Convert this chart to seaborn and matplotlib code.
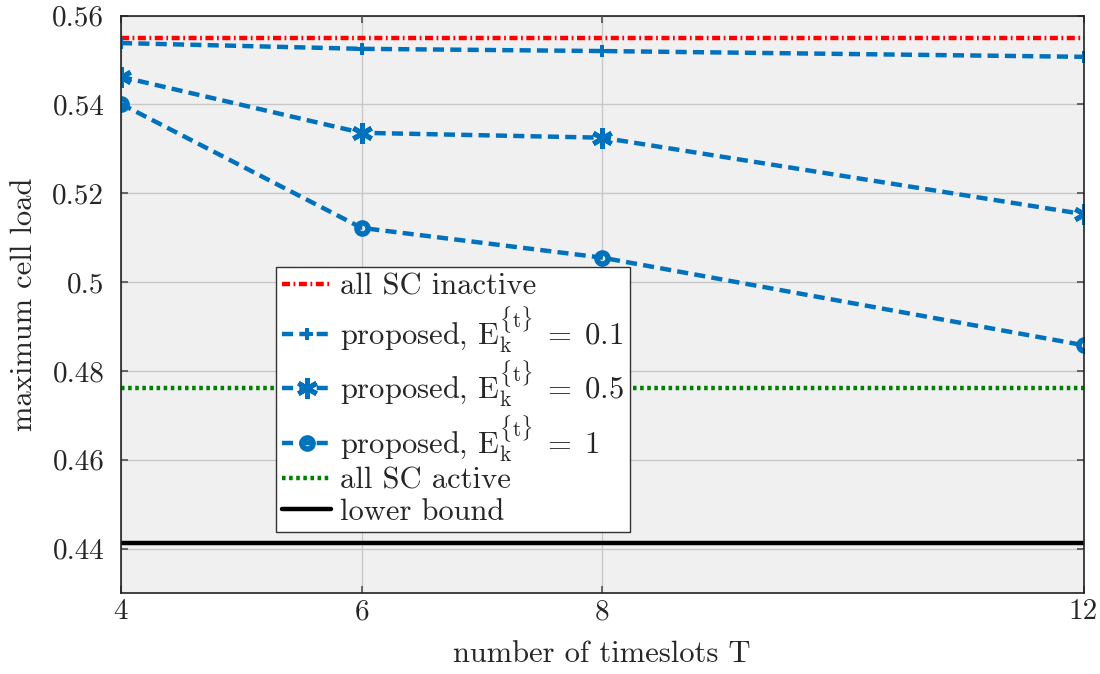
import numpy as np
import pandas as pd
import matplotlib
matplotlib.use("Agg")
import matplotlib.pyplot as plt
import seaborn as sns

# Data
timeslots = [4, 6, 8, 12]
all_sc_inactive = [0.5549, 0.5549, 0.5549, 0.5549]
proposed_e01 = [0.5538, 0.5525, 0.5520, 0.5507]
proposed_e05 = [0.5462, 0.5336, 0.5325, 0.5153]
proposed_e1 = [0.5401, 0.5122, 0.5055, 0.4858]
all_sc_active = [0.4762, 0.4762, 0.4762, 0.4762]
lower_bound = [0.4412, 0.4412, 0.4412, 0.4412]
y_ticks = [0.44, 0.46, 0.48, 0.50, 0.52, 0.54, 0.56]
y_tick_labels = ["0.44", "0.46", "0.48", "0.5", "0.52", "0.54", "0.56"]

sns.set_theme(style="ticks")
plt.rcParams["font.family"] = ["serif"]
plt.rcParams["font.serif"] = ["cmr10", "DejaVu Serif"]
plt.rcParams["mathtext.fontset"] = "cm"
plt.rcParams["axes.formatter.use_mathtext"] = True
plt.rcParams["axes.unicode_minus"] = False

fig = plt.figure(figsize=(11, 6.74), dpi=100)
ax = fig.add_axes([0.11, 0.12, 0.875, 0.857])
ax.set_facecolor("#f0f0f0")

blue = "#0072BD"
lw = 3.2

def draw(values, label, **kw):
    df = pd.DataFrame({"T": timeslots, "load": values})
    sns.lineplot(data=df, x="T", y="load", ax=ax, label=label, linewidth=lw, **kw)

eq = r"$\mathrm{E}_\mathrm{k}^{\{\mathrm{t}\}}\;=\;%s$"

draw(all_sc_inactive, "all SC inactive", color="red")
ax.lines[-1].set_dashes([1.8, 0.8, 0.4, 0.8])
draw(proposed_e01, "proposed, " + eq % "0.1", color=blue,
     marker="P", markersize=8, markeredgewidth=0)
ax.lines[-1].set_dashes([2.5, 1.4])
draw(proposed_e05, "proposed, " + eq % "0.5", color=blue,
     marker=(6, 2, 0), markersize=15, markeredgewidth=3.5, markeredgecolor=blue)
ax.lines[-1].set_dashes([2.5, 1.4])
draw(proposed_e1, "proposed, " + eq % "1", color=blue,
     marker="o", markersize=8, markerfacecolor="none", markeredgewidth=4, markeredgecolor=blue)
ax.lines[-1].set_dashes([2.5, 1.4])
draw(all_sc_active, "all SC active", color="#008000")
ax.lines[-1].set_dashes([0.8, 0.8])
draw(lower_bound, "lower bound", color="black")

ax.set_xlim(4, 12)
ax.set_ylim(0.43, 0.56)
ax.set_xticks(timeslots)
ax.set_xticklabels([str(t) for t in timeslots])
ax.set_yticks(y_ticks)
ax.set_yticklabels(y_tick_labels)
ax.grid(True, color="#c8c8c8", linewidth=1.0)
ax.set_axisbelow(True)
ax.tick_params(direction="in", top=True, right=True, labelsize=21, length=5,
               color="#555555")
ax.tick_params(axis="x", pad=4)
ax.tick_params(axis="y", pad=12)
for s in ax.spines.values():
    s.set_color("#222222")
    s.set_linewidth(1.2)

ax.set_xlabel("number of timeslots T", fontsize=22, labelpad=11)
ax.set_ylabel("maximum cell load", fontsize=22, labelpad=10)

leg = ax.legend(loc="upper left", bbox_to_anchor=(0.161, 0.565), fontsize=22,
                frameon=True, fancybox=False, framealpha=1, edgecolor="#333333",
                handlelength=1.6, handletextpad=0.3, borderpad=0.2, labelspacing=0.12,
                borderaxespad=0)
leg.get_frame().set_linewidth(1.0)

fig.savefig("out.png", dpi=100)
